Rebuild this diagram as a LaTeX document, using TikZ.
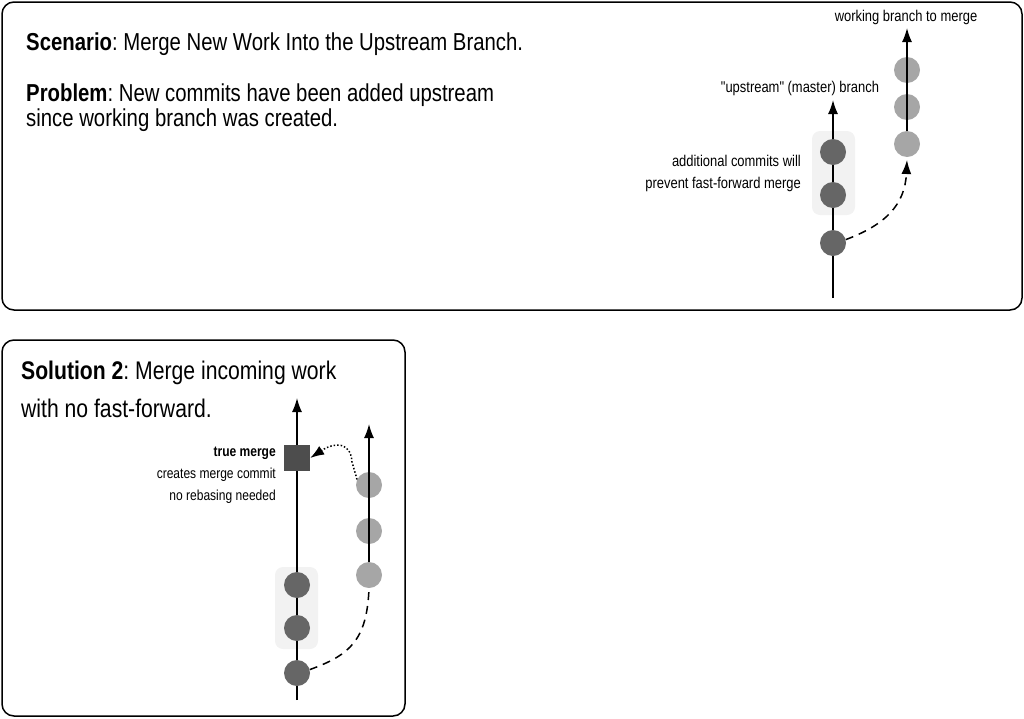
\documentclass[tikz,border=0pt]{standalone}
\usepackage{fontspec}
\setmainfont{Liberation Sans}[FakeStretch=0.83]
\newfontfamily\qfont{Liberation Sans}[FakeStretch=0.83, Ligatures=ResetAll]
\usetikzlibrary{arrows.meta}
\definecolor{darkc}{HTML}{666666}
\definecolor{lightc}{HTML}{A6A6A6}
\definecolor{sqc}{HTML}{4D4D4D}
\definecolor{hl}{HTML}{F2F2F2}
\frenchspacing
\tikzset{
  panel/.style={draw=black, line width=1.5pt, rounded corners=12pt},
  dk/.style={circle, fill=darkc, minimum size=26pt, inner sep=0pt},
  lt/.style={circle, fill=lightc, minimum size=26pt, inner sep=0pt},
  sq/.style={rectangle, fill=sqc, minimum size=26pt, inner sep=0pt},
  br/.style={line width=1.5pt, -{Latex[length=14pt,width=10pt]}},
  hlbox/.style={fill=hl, rounded corners=8pt},
  big/.style={font=\fontsize{24.5}{28}\selectfont, inner sep=0pt, anchor=base west},
  bigB/.style={font=\fontsize{25.5}{28}\selectfont, inner sep=0pt, anchor=base west},
  smallA/.style={font=\fontsize{15.6}{19}\selectfont, inner sep=0pt},
  smallB/.style={font=\fontsize{14.5}{17}\selectfont, inner sep=0pt, anchor=base east},
  dsh/.style={line width=1.5pt, dash pattern=on 8pt off 6pt},
  dtt/.style={line width=1.5pt, dotted, -{Latex[length=14pt,width=10pt]}}
}
\begin{document}
\begin{tikzpicture}[x=1pt,y=-1pt]
\useasboundingbox (0,0) rectangle (1024,718);
% panels
\draw[panel] (2,2) rectangle (1022,310);
\draw[panel] (2,340) rectangle (405,716);
% top texts
\node[big] (t1) at (26,50) {\textbf{Scenario}: Merge New Work Into the Upstream Branch.};
\node[big] (t2) at (26,101) {\textbf{Problem}: New commits have been added upstream};
\node[big] (t3) at (26,126) {since working branch was created.};
% top diagram
\fill[hlbox] (812,131) rectangle (855,215);
\coordinate (ub) at (833,298);
\coordinate (ut) at (833,100);
\draw[br] (ub) -- (ut);
\node[dk] (u0) at (833,243) {};
\node[dk] (u1) at (833,195) {};
\node[dk] (u2) at (833,152) {};
\node[lt] (w1) at (907,144) {};
\node[lt] (w2) at (907,107) {};
\node[lt] (w3) at (907,70) {};
\coordinate (wt) at (907,28);
\draw[br] (w1) -- (wt);
\coordinate (wa) at (907,160);
\draw[dsh, -{Latex[length=14pt,width=10pt]}] (u0.15) .. controls (885,225) and (905,205) .. (wa);
\node[smallA, anchor=base] (l1) at (906,21) {working branch to merge};
\node[smallA, anchor=base] (l2) at (800,92) {{\qfont "upstream"} (master) branch};
\node[smallA, anchor=base east] (l3) at (801,166) {additional commits will};
\node[smallA, anchor=base east] (l4) at (801,188) {prevent fast-forward merge};
% bottom texts
\node[bigB] (s1) at (21,379) {\textbf{Solution 2}: Merge incoming work};
\node[bigB] (s2) at (21,417) {with no fast-forward.};
% bottom diagram
\fill[hlbox] (275,567) rectangle (318,649);
\coordinate (mb) at (297,700);
\coordinate (mt) at (297,398);
\draw[br] (mb) -- (mt);
\node[dk] (m0) at (297,673) {};
\node[dk] (m1) at (297,628) {};
\node[dk] (m2) at (297,585) {};
\node[sq] (mq) at (297,458) {};
\node[lt] (n1) at (369,575) {};
\node[lt] (n2) at (369,531) {};
\node[lt] (n3) at (369,485) {};
\coordinate (nt) at (369,424);
\draw[br] (n1) -- (nt);
\draw[dsh] (m0.15) .. controls (350,655) and (367,640) .. (n1.south);
\draw[dtt] (n3.155) -- (352,462) .. controls (351,443) and (336,441) .. (mq.east);
\node[smallB] (tm) at (276,456) {\textbf{true merge}};
\node[smallB] (tm2) at (276,478) {creates merge commit};
\node[smallB] (tm3) at (276,500) {no rebasing needed};
\end{tikzpicture}
\end{document}
